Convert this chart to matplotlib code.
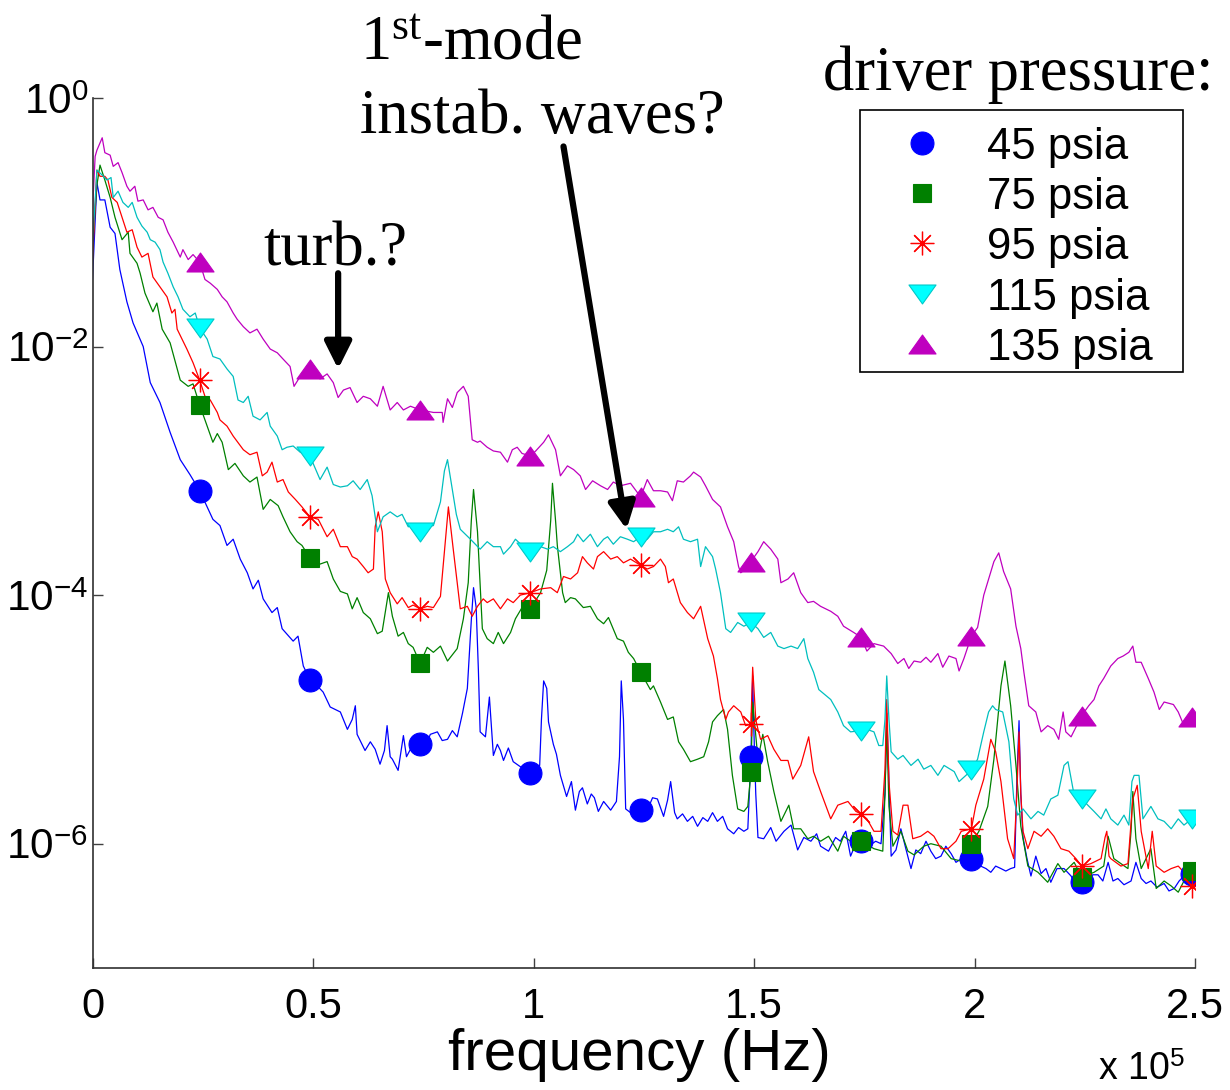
import numpy as np
import matplotlib
matplotlib.use("Agg")
import matplotlib.pyplot as plt
from matplotlib.lines import Line2D
from matplotlib.patches import Rectangle
from matplotlib.path import Path
from matplotlib.ticker import FixedLocator, FixedFormatter, NullLocator

plt.rcParams['font.family'] = ['Liberation Sans', 'DejaVu Sans']
plt.rcParams['mathtext.fontset'] = 'custom'
plt.rcParams['mathtext.rm'] = 'Liberation Serif'
plt.rcParams['mathtext.sf'] = 'Liberation Sans'
plt.rcParams['mathtext.it'] = 'Liberation Serif:italic'

# ---------------- data (frequency in kHz, log10 of spectral density) -------------
marker_freq_khz = [24.3, 49.3, 74.3, 99.3, 124.3, 149.3, 174.3, 199.3, 224.3, 249.3]

f45 = [0.0, 0.6, 1.0, 1.7, 2.8, 4.0, 5.1, 6.2, 7.8, 9.2, 11.5, 13.1, 15.3, 17.6, 19.9, 22.1, 24.3,
       27.3, 28.9, 30.5, 31.9, 33.5, 35.1, 36.4, 37.6, 38.7, 40.7, 41.9, 43.0, 45.5, 46.6, 47.8, 49.3,
       50.7, 52.3, 53.9, 56.2, 57.8, 58.9, 59.6, 60.0, 61.8, 63.0, 64.1, 65.2, 66.2, 66.8, 67.5, 68.0,
       69.3, 70.5, 71.2, 72.1, 73.2, 74.3, 75.5, 76.6, 78.2, 79.3, 80.5, 81.6, 82.7, 83.9, 85.0, 85.9,
       86.4, 87.0, 87.5, 87.9, 89.1, 90.0, 90.9, 91.8, 92.5, 93.2, 94.3, 95.4, 97.0, 98.6, 99.3, 100.5,
       101.4, 101.8, 102.3, 103.0, 103.4, 104.5, 105.2, 106.1, 107.5, 108.6, 109.5, 110.4, 111.1, 112.2,
       113.1, 113.8, 114.7, 115.9, 117.5, 118.8, 119.5, 119.9, 120.4, 120.9, 122.0, 123.4, 124.3, 125.8,
       127.0, 128.1, 129.5, 130.4, 131.1, 132.0, 132.6, 133.8, 134.9, 136.1, 137.2, 138.4, 139.5, 140.6,
       141.7, 142.9, 144.0, 145.4, 146.5, 147.7, 148.6, 149.3, 149.7, 149.9, 150.4, 150.9, 152.2, 153.8,
       155.0, 156.8, 158.4, 159.9, 161.3, 162.9, 164.2, 165.1, 166.9, 168.5, 169.6, 170.8, 171.9, 173.3,
       174.3, 175.6, 177.6, 178.8, 179.7, 180.1, 180.6, 181.1, 182.2, 183.3, 184.5, 185.6, 186.7, 187.8,
       189.0, 190.1, 191.2, 192.4, 193.5, 194.7, 195.8, 197.0, 198.3, 199.3, 200.3, 201.4, 202.6, 203.7,
       204.8, 206.0, 207.1, 208.2, 209.1, 209.6, 210.1, 210.5, 211.0, 211.9, 212.8, 213.9, 215.1, 216.2,
       217.3, 218.7, 220.3, 221.9, 223.2, 224.3, 225.9, 226.8, 228.0, 229.1, 230.3, 231.4, 232.5, 233.9,
       235.5, 236.6, 237.8, 238.9, 240.0, 241.4, 243.0, 244.1, 245.3, 246.4, 247.5, 248.7, 249.3, 250.0]
lg45 = [-1.46, -1.0, -0.68, -0.82, -0.82, -1.04, -1.09, -1.38, -1.64, -1.81, -2.0, -2.29, -2.45, -2.69,
        -2.91, -3.03, -3.16, -3.39, -3.44, -3.6, -3.55, -3.71, -3.82, -3.95, -3.88, -4.03, -4.14, -4.1,
        -4.27, -4.37, -4.33, -4.57, -4.68, -4.72, -4.78, -4.9, -4.94, -5.08, -5.0, -4.89, -5.12, -5.25,
        -5.18, -5.24, -5.36, -5.25, -5.05, -5.3, -5.32, -5.41, -5.13, -5.3, -5.24, -5.28, -5.2, -5.22,
        -5.12, -5.1, -5.17, -5.16, -5.09, -5.14, -4.95, -4.75, -4.2, -3.94, -4.1, -4.6, -5.1, -5.14,
        -4.82, -5.29, -5.2, -5.25, -5.33, -5.23, -5.34, -5.38, -5.4, -5.43, -5.39, -5.37, -5.0, -4.69,
        -4.75, -5.02, -5.2, -5.28, -5.45, -5.62, -5.5, -5.73, -5.58, -5.55, -5.68, -5.6, -5.63, -5.74,
        -5.66, -5.73, -5.66, -5.3, -4.69, -5.0, -5.72, -5.75, -5.72, -5.73, -5.73, -5.63, -5.64, -5.78,
        -5.65, -5.5, -5.75, -5.8, -5.76, -5.82, -5.78, -5.86, -5.79, -5.82, -5.75, -5.82, -5.78, -5.88,
        -5.92, -5.87, -5.9, -5.88, -5.3, -4.65, -5.0, -5.6, -5.95, -5.96, -5.87, -5.98, -5.9, -5.85,
        -6.05, -5.95, -5.98, -5.92, -6.02, -6.06, -5.95, -5.98, -5.9, -6.1, -5.98, -5.98, -6.03, -5.98,
        -6.0, -5.6, -4.95, -5.5, -6.1, -6.05, -5.88, -6.05, -6.2, -6.05, -6.08, -5.98, -6.06, -6.12,
        -6.1, -6.02, -6.08, -6.15, -6.12, -6.1, -6.12, -6.15, -6.18, -6.2, -6.23, -6.18, -6.2, -6.22,
        -6.2, -6.19, -5.5, -5.01, -5.6, -5.95, -6.12, -6.26, -6.1, -6.24, -6.2, -6.31, -6.2, -6.2,
        -6.26, -6.35, -6.31, -6.3, -6.25, -6.25, -6.3, -6.15, -6.3, -6.28, -6.33, -6.3, -6.15, -6.28,
        -6.32, -6.3, -6.35, -6.32, -6.38, -6.36, -6.3, -6.26, -6.28, -6.24, -6.25]

f75 = [0.0, 1.0, 1.7, 2.8, 4.0, 5.1, 6.7, 8.1, 8.5, 10.1, 10.8, 11.9, 13.7, 14.6, 15.8, 17.6, 19.9,
       21.7, 22.8, 24.3, 26.0, 27.3, 28.3, 29.4, 30.8, 32.3, 34.2, 35.7, 37.3, 38.7, 40.3, 42.1, 43.2,
       44.8, 46.4, 47.5, 49.3, 51.6, 53.2, 54.6, 56.2, 57.8, 58.9, 60.0, 61.4, 63.0, 64.6, 65.7, 67.1,
       68.0, 69.3, 70.5, 71.6, 72.7, 74.3, 75.9, 77.3, 78.9, 80.5, 82.7, 84.1, 85.2, 85.9, 86.4, 87.3,
       88.4, 89.5, 90.9, 92.0, 93.2, 94.8, 95.9, 97.4, 99.3, 101.6, 103.0, 103.9, 104.3, 105.0, 105.4,
       106.6, 107.2, 108.4, 109.5, 111.3, 112.9, 114.5, 115.9, 117.0, 119.0, 120.4, 121.5, 122.7, 124.3,
       126.5, 127.2, 128.8, 130.4, 131.7, 132.9, 134.0, 135.6, 137.2, 138.6, 139.7, 140.6, 141.7, 143.1,
       144.0, 145.1, 146.3, 147.7, 148.6, 149.3, 149.7, 150.9, 152.0, 153.1, 154.5, 156.1, 157.9, 159.0,
       160.6, 162.2, 163.5, 165.1, 166.9, 169.0, 170.3, 171.9, 173.3, 174.3, 177.2, 179.2, 179.7, 180.1,
       180.6, 181.5, 183.3, 184.9, 186.3, 188.5, 190.1, 192.4, 194.7, 197.0, 199.3, 201.0, 203.0, 204.4,
       206.0, 206.9, 208.2, 209.4, 210.5, 212.1, 214.4, 216.6, 218.9, 220.3, 222.6, 224.3, 227.1, 229.3,
       230.3, 231.6, 233.2, 234.8, 235.5, 235.9, 236.6, 237.8, 240.0, 241.2, 243.0, 244.6, 246.2, 247.5,
       249.3, 250.0]
lg75 = [-1.2, -0.7, -0.54, -0.66, -0.8, -0.96, -1.14, -1.08, -1.25, -1.33, -1.41, -1.57, -1.72, -1.65,
        -1.86, -1.97, -2.27, -2.32, -2.3, -2.47, -2.64, -2.77, -2.7, -2.77, -2.99, -2.94, -3.04, -3.09,
        -3.05, -3.31, -3.23, -3.28, -3.37, -3.49, -3.57, -3.6, -3.7, -3.75, -3.73, -3.87, -3.97, -3.99,
        -4.11, -4.02, -4.14, -4.19, -4.31, -4.29, -3.98, -4.17, -4.33, -4.3, -4.39, -4.42, -4.55, -4.42,
        -4.46, -4.41, -4.53, -4.43, -4.19, -3.9, -3.4, -3.15, -3.49, -4.27, -4.35, -4.39, -4.3, -4.39,
        -4.3, -4.19, -4.1, -4.11, -3.98, -3.8, -3.4, -3.1, -3.4, -3.6, -3.98, -4.06, -4.02, -4.03, -4.1,
        -4.09, -4.19, -4.23, -4.18, -4.35, -4.37, -4.46, -4.51, -4.62, -4.76, -4.73, -4.86, -5.0, -4.98,
        -5.18, -5.24, -5.34, -5.32, -5.3, -5.18, -5.02, -4.97, -4.92, -5.08, -5.45, -5.72, -5.74, -5.7,
        -5.42, -4.86, -5.32, -5.12, -5.34, -5.58, -5.82, -5.69, -5.88, -5.88, -5.96, -5.94, -5.98, -5.94,
        -6.06, -5.94, -5.98, -5.95, -5.98, -6.04, -6.06, -5.6, -5.05, -5.7, -6.02, -5.9, -6.06, -6.09,
        -6.02, -6.0, -6.02, -6.12, -6.14, -6.0, -5.9, -5.7, -5.32, -4.73, -4.53, -4.89, -5.37, -5.86,
        -6.18, -6.23, -6.31, -6.16, -6.23, -6.15, -6.27, -6.23, -6.18, -5.94, -6.12, -6.16, -6.2, -5.9,
        -5.58, -5.96, -6.2, -6.04, -6.36, -6.3, -6.34, -6.39, -6.3, -6.22, -6.24]

f95 = [0.0, 1.0, 1.7, 2.8, 3.5, 4.4, 5.6, 6.7, 7.8, 9.0, 10.1, 11.2, 12.6, 13.7, 15.3, 16.9, 18.0,
       18.7, 19.2, 21.4, 22.8, 24.3, 25.5, 26.7, 28.3, 28.9, 30.5, 31.9, 34.2, 35.7, 37.3, 38.5, 39.6,
       40.7, 41.9, 43.2, 44.4, 46.0, 47.5, 49.3, 51.2, 53.2, 54.6, 56.2, 57.8, 58.9, 60.0, 61.4, 62.5,
       63.7, 64.1, 64.8, 65.7, 66.4, 67.5, 69.1, 70.2, 71.6, 72.7, 74.3, 75.9, 77.3, 78.9, 79.5, 80.7,
       81.8, 83.4, 85.0, 86.1, 87.3, 88.6, 89.5, 90.9, 92.5, 94.1, 95.4, 97.0, 99.3, 101.6, 103.9, 105.4,
       106.8, 108.4, 110.0, 111.1, 112.2, 113.6, 114.5, 115.9, 117.5, 119.0, 120.4, 122.0, 124.3, 125.8,
       127.2, 128.8, 129.9, 130.6, 131.7, 133.3, 134.9, 136.3, 137.9, 139.5, 140.8, 141.7, 142.4, 143.6,
       144.2, 145.4, 147.0, 148.1, 149.3, 149.7, 150.4, 150.9, 151.5, 153.1, 154.5, 156.1, 157.7, 158.8,
       160.6, 162.4, 163.5, 165.1, 167.4, 169.0, 171.3, 173.1, 174.3, 175.6, 177.2, 178.8, 179.7, 180.1,
       180.6, 181.5, 182.6, 183.8, 184.9, 186.0, 187.8, 189.4, 190.8, 192.4, 194.0, 195.8, 197.0, 199.3,
       200.3, 202.1, 203.7, 204.8, 206.0, 207.5, 208.9, 209.6, 210.1, 210.5, 211.0, 212.1, 213.5, 215.1,
       216.6, 218.0, 219.6, 221.4, 223.0, 224.3, 226.4, 228.7, 229.6, 230.0, 230.5, 230.9, 233.2, 234.8,
       235.9, 236.9, 237.8, 239.4, 240.3, 241.2, 243.0, 244.6, 246.2, 247.5, 249.3, 250.0]
lg95 = [-1.3, -0.58, -0.63, -0.63, -0.66, -0.8, -0.84, -0.96, -1.08, -1.06, -1.2, -1.28, -1.25, -1.44,
        -1.52, -1.6, -1.73, -1.7, -1.86, -2.02, -2.13, -2.27, -2.4, -2.43, -2.53, -2.59, -2.64, -2.72,
        -2.83, -2.87, -2.85, -3.04, -3.01, -2.93, -3.09, -3.07, -3.17, -3.23, -3.29, -3.37, -3.39, -3.53,
        -3.47, -3.61, -3.61, -3.69, -3.71, -3.77, -3.82, -3.79, -3.45, -3.33, -3.49, -3.87, -3.98, -4.07,
        -4.02, -4.1, -4.08, -4.11, -4.09, -4.1, -4.01, -3.77, -3.29, -3.63, -4.11, -4.09, -4.17, -4.09,
        -4.03, -4.06, -4.03, -4.11, -4.03, -4.06, -4.0, -3.98, -3.95, -3.94, -3.98, -3.85, -3.87, -3.82,
        -3.69, -3.74, -3.79, -3.69, -3.65, -3.71, -3.69, -3.74, -3.71, -3.76, -3.79, -3.77, -3.71, -3.77,
        -3.9, -3.87, -4.06, -4.14, -4.19, -4.09, -4.35, -4.49, -4.67, -4.84, -5.0, -4.94, -4.89, -4.94,
        -5.05, -5.04, -4.58, -5.0, -5.08, -5.16, -5.13, -5.24, -5.33, -5.33, -5.48, -5.37, -5.14, -5.42,
        -5.58, -5.8, -5.69, -5.66, -5.74, -5.76, -5.8, -5.9, -5.9, -5.4, -4.84, -5.5, -5.9, -5.93, -5.69,
        -5.69, -5.96, -5.94, -5.9, -5.94, -6.04, -6.04, -5.98, -5.9, -5.88, -5.69, -5.48, -5.16, -5.26,
        -5.5, -5.96, -6.12, -5.6, -5.1, -5.6, -5.9, -6.04, -5.9, -5.94, -5.88, -5.94, -6.04, -6.06, -6.12,
        -6.18, -6.16, -6.12, -5.95, -5.9, -6.1, -6.12, -6.18, -6.16, -5.64, -5.53, -5.9, -6.2, -5.9,
        -6.18, -6.23, -6.2, -6.18, -6.23, -6.34, -6.36]

f115 = [0.0, 1.0, 2.2, 3.3, 4.2, 4.7, 5.8, 6.9, 8.1, 9.0, 10.1, 11.2, 12.4, 13.1, 14.2, 15.3, 16.0,
        17.1, 18.3, 19.4, 20.5, 22.1, 23.3, 24.3, 26.0, 27.3, 28.9, 30.5, 31.9, 33.0, 34.2, 35.3, 36.4,
        38.0, 39.6, 40.3, 41.9, 43.0, 44.1, 45.5, 47.1, 49.3, 51.6, 53.2, 54.6, 56.2, 57.8, 59.1, 60.7,
        62.3, 63.4, 64.6, 65.9, 67.5, 69.1, 70.2, 71.6, 72.7, 74.3, 75.9, 77.3, 78.9, 79.8, 80.5, 81.6,
        82.5, 83.4, 85.7, 87.9, 89.5, 90.9, 92.5, 93.2, 94.8, 95.9, 97.4, 99.3, 101.6, 103.2, 104.5,
        106.1, 107.7, 109.1, 110.0, 111.3, 112.9, 114.5, 115.9, 116.8, 118.1, 119.7, 121.3, 122.7, 124.3,
        125.8, 127.2, 128.8, 130.4, 131.7, 132.9, 134.0, 135.6, 137.2, 137.9, 139.0, 140.6, 141.3, 142.4,
        143.6, 144.7, 146.3, 147.7, 149.3, 150.9, 152.2, 153.8, 155.4, 156.8, 158.4, 159.9, 161.3, 162.2,
        163.5, 164.7, 167.4, 169.0, 170.3, 171.9, 174.3, 175.6, 177.2, 178.3, 179.2, 179.7, 180.1, 180.6,
        181.1, 182.6, 183.8, 185.6, 187.2, 188.5, 190.1, 191.7, 193.1, 195.4, 196.5, 199.3, 200.7, 202.1,
        203.2, 204.1, 204.8, 206.4, 207.8, 208.9, 209.8, 211.0, 212.8, 214.4, 215.7, 217.3, 218.9, 220.3,
        221.2, 222.6, 224.3, 227.1, 228.7, 229.8, 230.9, 232.5, 233.9, 235.0, 235.7, 236.2, 237.3, 238.2,
        240.0, 241.6, 243.0, 244.6, 246.2, 247.5, 249.3, 250.0]
lg115 = [-1.19, -0.58, -0.62, -0.66, -0.64, -0.8, -0.75, -0.84, -0.88, -0.84, -0.96, -1.03, -1.08,
         -1.14, -1.16, -1.22, -1.32, -1.41, -1.52, -1.6, -1.7, -1.76, -1.73, -1.85, -1.94, -2.08, -2.1,
         -2.18, -2.24, -2.43, -2.45, -2.4, -2.56, -2.59, -2.53, -2.64, -2.72, -2.83, -2.81, -2.8, -2.85,
         -2.88, -3.07, -2.97, -3.11, -3.13, -3.12, -3.08, -3.15, -3.07, -3.2, -3.49, -3.37, -3.33, -3.37,
         -3.35, -3.45, -3.44, -3.49, -3.45, -3.44, -3.25, -3.0, -2.91, -3.15, -3.35, -3.47, -3.55, -3.63,
         -3.57, -3.61, -3.61, -3.67, -3.61, -3.55, -3.6, -3.65, -3.61, -3.63, -3.61, -3.65, -3.61, -3.57,
         -3.51, -3.57, -3.51, -3.61, -3.55, -3.53, -3.59, -3.53, -3.55, -3.57, -3.53, -3.55, -3.49, -3.49,
         -3.47, -3.49, -3.45, -3.55, -3.57, -3.55, -3.77, -3.61, -3.69, -3.79, -3.98, -4.27, -4.3, -4.22,
         -4.25, -4.22, -4.27, -4.34, -4.3, -4.41, -4.43, -4.41, -4.43, -4.35, -4.51, -4.62, -4.76, -4.84,
         -4.94, -5.05, -5.1, -5.09, -5.08, -5.1, -5.21, -5.21, -5.0, -4.65, -5.0, -5.26, -5.32, -5.29,
         -5.37, -5.32, -5.4, -5.37, -5.45, -5.37, -5.42, -5.5, -5.41, -5.32, -5.1, -4.94, -4.89, -4.92,
         -4.94, -5.18, -5.64, -5.77, -5.72, -5.8, -5.74, -5.77, -5.64, -5.61, -5.37, -5.34, -5.61, -5.64,
         -5.74, -5.8, -5.72, -5.8, -5.85, -5.77, -5.85, -5.5, -5.45, -5.45, -5.8, -5.7, -5.8, -5.82,
         -5.88, -5.8, -5.85, -5.8, -5.78]

f135 = [0.0, 0.6, 1.0, 2.2, 2.8, 4.0, 4.7, 5.8, 6.7, 7.8, 8.5, 9.6, 10.3, 11.5, 12.6, 13.7, 14.9,
        16.0, 17.1, 18.3, 19.9, 20.5, 21.7, 22.8, 24.3, 25.5, 26.7, 28.3, 29.4, 30.5, 31.9, 32.8, 34.2,
        35.7, 37.3, 38.7, 40.3, 41.9, 43.2, 44.8, 45.7, 47.1, 49.3, 51.6, 53.2, 54.6, 55.7, 56.9, 58.4,
        60.0, 61.4, 63.0, 64.6, 65.9, 67.5, 69.1, 70.5, 72.1, 74.3, 77.3, 79.3, 79.5, 80.5, 81.6, 82.7,
        84.1, 85.2, 86.1, 87.3, 87.9, 89.5, 90.9, 92.5, 94.1, 95.2, 96.3, 97.4, 99.3, 100.5, 102.3, 103.4,
        105.0, 106.1, 107.7, 109.1, 110.6, 111.8, 113.4, 115.2, 116.8, 118.1, 119.7, 122.0, 124.3, 125.8,
        127.2, 128.8, 130.4, 131.5, 132.6, 134.0, 135.6, 136.3, 137.9, 139.0, 140.6, 142.4, 144.0, 145.4,
        146.5, 147.0, 147.7, 149.3, 150.9, 152.2, 153.8, 155.4, 156.1, 157.7, 159.0, 160.6, 162.2, 163.5,
        165.1, 167.4, 169.0, 170.3, 172.6, 174.3, 175.6, 177.2, 179.4, 181.1, 182.6, 184.0, 185.1, 186.3,
        187.8, 189.0, 190.1, 191.7, 192.8, 194.2, 195.8, 196.5, 197.6, 199.3, 200.7, 202.1, 203.2, 204.4,
        205.5, 206.6, 208.2, 209.4, 210.5, 211.2, 212.3, 213.9, 215.1, 216.6, 218.0, 219.1, 220.1, 220.7,
        221.9, 224.3, 225.9, 227.1, 228.2, 229.3, 230.9, 232.5, 233.7, 235.0, 235.9, 236.6, 237.8, 239.4,
        240.7, 241.9, 243.0, 245.1, 246.2, 247.5, 249.3, 250.0]
lg135 = [-0.9, -0.47, -0.42, -0.32, -0.44, -0.46, -0.55, -0.52, -0.6, -0.71, -0.75, -0.71, -0.83,
         -0.82, -0.9, -0.88, -0.96, -0.98, -1.08, -1.16, -1.28, -1.22, -1.3, -1.26, -1.32, -1.46, -1.49,
         -1.54, -1.6, -1.64, -1.73, -1.78, -1.84, -1.89, -1.86, -1.94, -2.02, -2.05, -2.1, -2.16, -2.32,
         -2.24, -2.18, -2.26, -2.22, -2.29, -2.41, -2.35, -2.33, -2.45, -2.4, -2.42, -2.48, -2.32, -2.51,
         -2.45, -2.51, -2.48, -2.51, -2.53, -2.53, -2.61, -2.42, -2.49, -2.37, -2.32, -2.4, -2.75, -2.77,
         -2.76, -2.81, -2.84, -2.85, -2.93, -2.83, -2.81, -2.86, -2.88, -2.84, -2.77, -2.71, -2.83, -3.04,
         -2.96, -2.99, -3.04, -3.15, -3.08, -3.12, -3.15, -3.09, -3.12, -3.1, -3.21, -3.07, -3.16, -3.16,
         -3.17, -3.24, -3.08, -3.09, -3.04, -3.01, -3.05, -3.12, -3.23, -3.29, -3.45, -3.57, -3.77, -3.82,
         -3.8, -3.73, -3.65, -3.57, -3.63, -3.71, -3.9, -3.87, -3.82, -3.98, -4.06, -4.05, -4.09, -4.13,
         -4.17, -4.25, -4.3, -4.34, -4.45, -4.39, -4.41, -4.47, -4.55, -4.51, -4.59, -4.53, -4.54, -4.5,
         -4.54, -4.47, -4.58, -4.49, -4.51, -4.61, -4.51, -4.33, -4.26, -4.0, -3.87, -3.73, -3.66, -3.81,
         -3.95, -4.25, -4.43, -4.62, -4.89, -4.94, -5.1, -5.05, -5.08, -5.16, -4.94, -5.1, -5.14, -4.97,
         -4.89, -4.84, -4.73, -4.67, -4.57, -4.51, -4.49, -4.46, -4.41, -4.54, -4.54, -4.67, -4.78, -4.92,
         -4.86, -4.88, -4.94, -5.05, -4.98, -4.96]

series_labels = ['45 psia', '75 psia', '95 psia', '115 psia', '135 psia']
series_freqs = [f45, f75, f95, f115, f135]
series_logs = [lg45, lg75, lg95, lg115, lg135]

x_ticks = [0, 0.5e5, 1.0e5, 1.5e5, 2.0e5, 2.5e5]
x_ticklabels = ['0', '0.5', '1', '1.5', '2', '2.5']
y_ticks = [1e0, 1e-2, 1e-4, 1e-6]
y_ticklabels = [r'10$^{\mathsf{0}}$', r'10$^{\mathsf{-2}}$', r'10$^{\mathsf{-4}}$', r'10$^{\mathsf{-6}}$']

# ---------------- styles ------------------
tri = Path([(0, 0.7), (-1, -0.7), (1, -0.7), (0, 0.7)],
           [Path.MOVETO, Path.LINETO, Path.LINETO, Path.CLOSEPOLY])
tri_down = Path([(0, -0.7), (-1, 0.7), (1, 0.7), (0, -0.7)],
                [Path.MOVETO, Path.LINETO, Path.LINETO, Path.CLOSEPOLY])
styles = [
    dict(line='#0000ff', marker='o', mfc='#0000ff', mec='#0000ff', ms=16.5, mew=0.8),
    dict(line='#008000', marker='s', mfc='#008000', mec='#008000', ms=13.5, mew=0.8),
    dict(line='#ff0000', marker=(8, 2, 0), mfc='#ff0000', mec='#ff0000', ms=17, mew=0.9),
    dict(line='#00bfbf', marker=tri_down, mfc='#00ffff', mec='#00c8c8', ms=19.5, mew=0.8),
    dict(line='#bf00bf', marker=tri, mfc='#bf00bf', mec='#bf00bf', ms=19.5, mew=0.8),
]

W, H = 1230, 1090
fig = plt.figure(figsize=(W / 100, H / 100), dpi=100)
ax = fig.add_axes([92.5 / W, 1 - 968 / H, (1195 - 92.5) / W, (968 - 98) / H])

for f, lg, st in zip(series_freqs, series_logs, styles):
    f = np.asarray(f) * 1e3
    y = 10.0 ** np.asarray(lg)
    idx = [int(np.argmin(np.abs(f - m * 1e3))) for m in marker_freq_khz]
    ax.plot(f, y, color=st['line'], lw=0.9, zorder=2)
    ax.plot(f, y, linestyle='none', marker=st['marker'], markevery=idx,
            mfc=st['mfc'], mec=st['mec'], ms=st['ms'], mew=st['mew'], zorder=3)

ax.set_yscale('log')
ax.set_xlim(0, 2.5e5)
ax.set_ylim(1e-7, 1e0)
ax.xaxis.set_major_locator(FixedLocator(x_ticks))
ax.xaxis.set_major_formatter(FixedFormatter(x_ticklabels))
ax.yaxis.set_major_locator(FixedLocator(y_ticks))
ax.yaxis.set_major_formatter(FixedFormatter(y_ticklabels))
ax.yaxis.set_minor_locator(NullLocator())
ax.xaxis.set_minor_locator(NullLocator())
ax.tick_params(axis='both', direction='in', length=7, width=1, color='#404040')
ax.tick_params(axis='x', pad=14, labelsize=30)
ax.tick_params(axis='y', pad=3, labelsize=30.5)
for s in ['top', 'right']:
    ax.spines[s].set_visible(False)
for s in ['left', 'bottom']:
    ax.spines[s].set_color('#303030')
    ax.spines[s].set_linewidth(1.2)


def fp(x, y):
    return x / W, 1 - y / H


# legend (drawn as a box with marker samples and labels)
x0, y0 = fp(860, 372)
x1, y1 = fp(1183, 110)
fig.add_artist(Rectangle((x0, y0), x1 - x0, y1 - y0, transform=fig.transFigure,
                         facecolor='white', edgecolor='black', lw=1.2, zorder=5))
row_y = [143, 193, 243, 294, 344]
for ry, st, lab in zip(row_y, styles, series_labels):
    mx, my = fp(922, ry)
    fig.add_artist(Line2D([mx], [my], transform=fig.transFigure, linestyle='none',
                          marker=st['marker'], mfc=st['mfc'], mec=st['mec'], ms=st['ms'],
                          mew=st['mew'], zorder=6))
    fig.text(*fp(987, ry + 16), lab, fontsize=31.5, ha='left', va='baseline', zorder=6)

serif = ['Liberation Serif', 'DejaVu Serif']
fig.text(*fp(823, 90), 'driver pressure:', family=serif, fontsize=45, va='baseline', ha='left')
fig.text(*fp(263, 265), 'turb.?', family=serif, fontsize=45, va='baseline', ha='left')
fig.text(*fp(360, 60), r'1$^{\mathrm{st}}$-mode', family=serif, fontsize=45, va='baseline', ha='left')
fig.text(*fp(360, 133), 'instab. waves?', family=serif, fontsize=45, va='baseline', ha='left')

# arrows (data coordinates)
arrow_kw = dict(arrowstyle='-|>', lw=4.5, color='black', mutation_scale=40, shrinkA=0, shrinkB=0)
ax.annotate('', xy=(55.7e3, 10 ** -2.18), xytext=(55.7e3, 10 ** -1.41), arrowprops=arrow_kw,
            annotation_clip=False)
ax.annotate('', xy=(121.1e3, 10 ** -3.47), xytext=(106.8e3, 10 ** -0.39), arrowprops=arrow_kw,
            annotation_clip=False)

fig.text(*fp(639, 1055), 'frequency (Hz)', fontsize=42, ha='center', va='center')
fig.text(*fp(1098, 1088), r'x 10$^{\mathsf{5}}$', fontsize=27, ha='left', va='bottom')

fig.savefig('out.png', dpi=100)
